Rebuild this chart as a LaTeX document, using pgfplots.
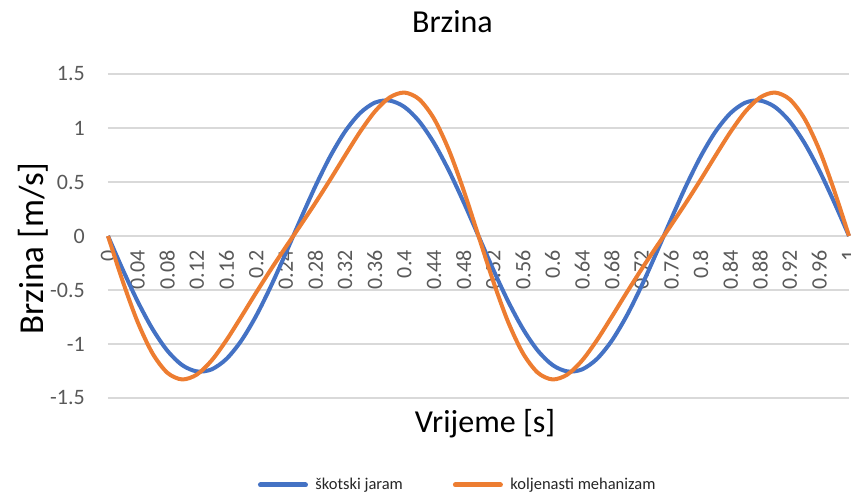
\documentclass[border=0pt]{standalone}
\usepackage{fontspec}
\setmainfont{Carlito}
\usepackage{pgfplots}
\pgfplotsset{compat=1.18}
\usepackage{pgfplotstable}
\definecolor{exblue}{HTML}{4472C4}
\definecolor{exorange}{HTML}{ED7D31}
\definecolor{gridgray}{HTML}{D9D9D9}
\definecolor{ticktext}{HTML}{595959}
\definecolor{legtext}{HTML}{262626}

\pgfplotstableread{
t     blue     orange
0     0        0
0.02  -0.3125  -0.4215
0.04  -0.6054  -0.7964
0.06  -0.8602  -1.0859
0.08  -1.0610  -1.2657
0.10  -1.1951  -1.3281
0.12  -1.2541  -1.2825
0.14  -1.2344  -1.1511
0.16  -1.1370  -0.9627
0.18  -0.9682  -0.7460
0.20  -0.7386  -0.5235
0.22  -0.4626  -0.3078
0.24  -0.1575  -0.1012
0.26  0.1575   0.1012
0.28  0.4626   0.3078
0.30  0.7386   0.5235
0.32  0.9682   0.7460
0.34  1.1370   0.9627
0.36  1.2344   1.1511
0.38  1.2541   1.2825
0.40  1.1951   1.3281
0.42  1.0610   1.2657
0.44  0.8602   1.0859
0.46  0.6054   0.7964
0.48  0.3125   0.4215
0.50  0        0
0.52  -0.3125  -0.4215
0.54  -0.6054  -0.7964
0.56  -0.8602  -1.0859
0.58  -1.0610  -1.2657
0.60  -1.1951  -1.3281
0.62  -1.2541  -1.2825
0.64  -1.2344  -1.1511
0.66  -1.1370  -0.9627
0.68  -0.9682  -0.7460
0.70  -0.7386  -0.5235
0.72  -0.4626  -0.3078
0.74  -0.1575  -0.1012
0.76  0.1575   0.1012
0.78  0.4626   0.3078
0.80  0.7386   0.5235
0.82  0.9682   0.7460
0.84  1.1370   0.9627
0.86  1.2344   1.1511
0.88  1.2541   1.2825
0.90  1.1951   1.3281
0.92  1.0610   1.2657
0.94  0.8602   1.0859
0.96  0.6054   0.7964
0.98  0.3125   0.4215
1.00  0        0
}\data

\begin{document}
\begin{tikzpicture}
\useasboundingbox (0,0) rectangle (851pt,493pt);
\begin{axis}[
  at={(108pt,95pt)}, anchor=south west,
  scale only axis, width=741pt, height=324pt,
  xmin=0, xmax=1, ymin=-1.5, ymax=1.5,
  axis line style={draw=none},
  major tick length=0pt,
  ytick={-1.5,-1,-0.5,0,0.5,1,1.5},
  yticklabels={-1.5,-1,-0.5,0,0.5,1,1.5},
  xtick={0,0.04,0.08,0.12,0.16,0.2,0.24,0.28,0.32,0.36,0.4,0.44,0.48,0.52,0.56,0.6,0.64,0.68,0.72,0.76,0.8,0.84,0.88,0.92,0.96,1},
  xticklabels={0,0.04,0.08,0.12,0.16,0.2,0.24,0.28,0.32,0.36,0.4,0.44,0.48,0.52,0.56,0.6,0.64,0.68,0.72,0.76,0.8,0.84,0.88,0.92,0.96,1},
  ymajorgrids, grid style={gridgray, line width=1.5pt},
  tick label style={font=\fontsize{22}{26}\selectfont, text=ticktext},
  yticklabel style={anchor=east, inner sep=0pt, xshift=-23pt},
  xticklabel style={yshift=148pt, rotate=90, anchor=east, inner sep=0pt},
  title={Brzina},
  title style={at={(axis description cs:0.4649,1.111)}, anchor=base, font=\fontsize{32}{38}\selectfont, text=black},
  xlabel={Vrijeme [s]},
  xlabel style={at={(axis description cs:0.5088,-0.108)}, anchor=base, font=\fontsize{32}{38}\selectfont, text=black},
  ylabel={Brzina [m/s]},
  ylabel style={at={(axis description cs:-0.0877,0.4614)}, rotate=0, anchor=base, font=\fontsize{35}{42}\selectfont, text=black},
  legend columns=2,
  legend image code/.code={\draw[#1, line width=5pt, line cap=round] (2.5pt,0pt) -- (47.5pt,0pt);},
  legend style={at={(axis description cs:0.2024,-0.2685)}, anchor=west, draw=none, fill=none,
    inner sep=0pt, outer sep=0pt, font=\fontsize{16.5}{20}\selectfont, text=legtext,
    nodes={inner sep=0pt},
    /tikz/every odd column/.append style={column sep=7.5pt},
    /tikz/every even column/.append style={column sep=50pt}},
  clip=false,
]
\addplot[color=exblue, line width=4pt, smooth, no markers] table[x=t, y=blue] {\data};
\addlegendentry{škotski jaram}
\addplot[color=exorange, line width=4pt, smooth, no markers] table[x=t, y=orange] {\data};
\addlegendentry{koljenasti mehanizam}
\end{axis}
\end{tikzpicture}
\end{document}
